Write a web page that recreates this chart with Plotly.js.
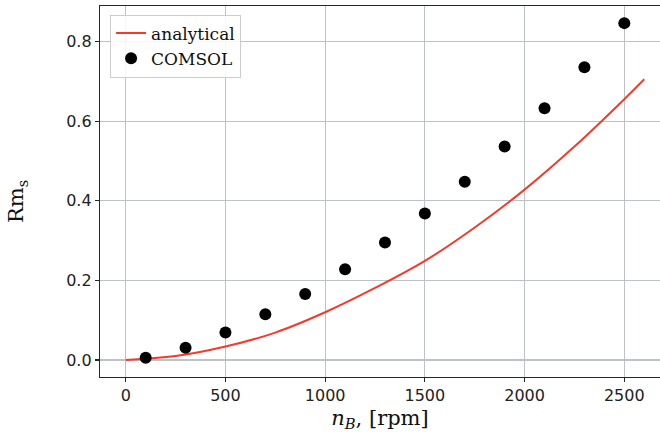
<!DOCTYPE html>
<html>
<head>
<meta charset="utf-8">
<script src="https://cdn.plot.ly/plotly-3.0.1.min.js"></script>
<style>html,body{margin:0;padding:0;background:#fff;}#chart{width:660px;height:432px;}</style>
</head>
<body>
<div id="chart"></div>
<script>
// analytical curve
const analyticalN = [0, 250, 500, 750, 1000, 1250, 1500, 1750, 2000, 2250, 2500, 2600];
const analyticalRm = [0, 0.010, 0.034, 0.069, 0.120, 0.181, 0.249, 0.333, 0.428, 0.536, 0.655, 0.705];
// COMSOL points
const comsolN = [100, 300, 500, 700, 900, 1100, 1300, 1500, 1700, 1900, 2100, 2300, 2500];
const comsolRm = [0.006, 0.031, 0.069, 0.115, 0.166, 0.228, 0.295, 0.368, 0.448, 0.536, 0.632, 0.735, 0.846];
const xTicks = [0, 500, 1000, 1500, 2000, 2500];
const yTicks = [0.0, 0.2, 0.4, 0.6, 0.8];
const yTickText = ['0.0', '0.2', '0.4', '0.6', '0.8'];

const traces = [
  {x: analyticalN, y: analyticalRm, type: 'scatter', mode: 'lines', name: 'analytical',
   line: {color: '#f23b2b', width: 2, shape: 'spline', smoothing: 1}},
  {x: comsolN, y: comsolRm, type: 'scatter', mode: 'markers', name: 'COMSOL',
   marker: {color: '#000000', size: 12}}
];

const axisCommon = {
  showline: true, linecolor: '#262626', linewidth: 1.2,
  ticks: 'outside', ticklen: 4, tickwidth: 1.2, tickcolor: '#262626',
  showgrid: true, gridcolor: '#bcc3c7', gridwidth: 1.2,
  zeroline: false,
  tickfont: {family: 'DejaVu Sans', size: 16, color: '#222'}
};

const layout = {
  width: 660, height: 432,
  margin: {l: 100, r: 0, t: 6, b: 55},
  paper_bgcolor: '#fff', plot_bgcolor: '#fff',
  showlegend: true,
  legend: {x: 0.018, y: 0.977, xanchor: 'left', yanchor: 'top',
    bgcolor: 'rgba(255,255,255,0.85)', bordercolor: '#cccccc', borderwidth: 1,
    font: {family: 'DejaVu Serif', size: 17, color: '#111'}},
  xaxis: Object.assign({}, axisCommon, {
    range: [-129, 2679], tickvals: xTicks, mirror: true,
    title: {text: '<i>n</i><sub><i>B</i></sub>, [rpm]', font: {family: 'DejaVu Serif', size: 21, color: '#111'}, standoff: 6}
  }),
  yaxis: Object.assign({}, axisCommon, {
    range: [-0.0425, 0.889], tickvals: yTicks, ticktext: yTickText
  }),
  annotations: [{
    text: 'Rm<sub>s</sub>', xref: 'paper', yref: 'paper', x: -0.148, y: 0.472,
    xanchor: 'center', yanchor: 'middle', textangle: -90, showarrow: false,
    font: {family: 'DejaVu Serif', size: 21, color: '#111'}
  }]
};

Plotly.newPlot('chart', traces, layout, {displayModeBar: false, staticPlot: true});
</script>
</body>
</html>
